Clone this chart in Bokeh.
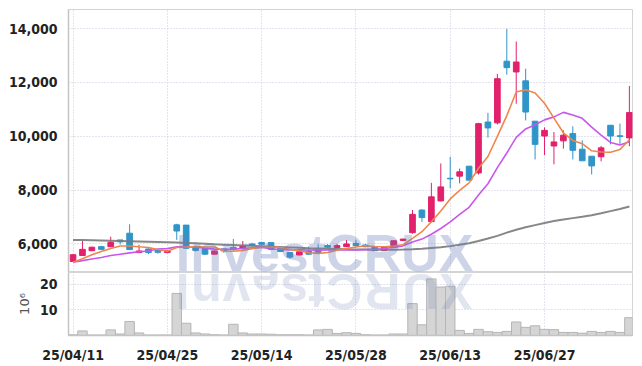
from bokeh.plotting import figure
from bokeh.layouts import column
from bokeh.models import Range1d, FixedTicker, NumeralTickFormatter, ColumnDataSource, Label
from bokeh.embed import file_html
from bokeh.resources import INLINE
import math

dates = ["25/04/11", "25/04/14", "25/04/15", "25/04/16", "25/04/17", "25/04/18", "25/04/21", "25/04/22",
         "25/04/23", "25/04/24", "25/04/25", "25/04/28", "25/04/29", "25/04/30", "25/05/02", "25/05/07",
         "25/05/08", "25/05/09", "25/05/12", "25/05/13", "25/05/14", "25/05/15", "25/05/16", "25/05/19",
         "25/05/20", "25/05/21", "25/05/22", "25/05/23", "25/05/26", "25/05/27", "25/05/28", "25/05/29",
         "25/05/30", "25/06/02", "25/06/04", "25/06/05", "25/06/09", "25/06/10", "25/06/11", "25/06/12",
         "25/06/13", "25/06/16", "25/06/17", "25/06/18", "25/06/19", "25/06/20", "25/06/23", "25/06/24",
         "25/06/25", "25/06/26", "25/06/27", "25/06/30", "25/07/01", "25/07/02", "25/07/03", "25/07/04",
         "25/07/07", "25/07/08", "25/07/09", "25/07/10"]

opens = [5350, 5570, 5750, 5900, 5900, 6150, 6400, 5680, 5815, 5765,
         5680, 6710, 6700, 5900, 5840, 5620, 5815, 5880, 5840, 6000,
         6050, 6050, 5840, 5680, 5590, 5740, 5800, 5940, 5870, 5900,
         6020, 5960, 5880, 5750, 5880, 6130, 6420, 7260, 6830, 7600,
         8440, 8520, 8890, 8640, 10530, 10500, 12790, 12390, 12060, 10560,
         10010, 9640, 9830, 10100, 9520, 9260, 9240, 10410, 10020, 9940]
highs = [5620, 6110, 5900, 5930, 6270, 6150, 6730, 5970, 5830, 5780,
         5760, 6750, 6700, 5930, 5850, 5750, 5830, 6185, 6110, 6040,
         6080, 6060, 5850, 5690, 5720, 5910, 5990, 6000, 6000, 6150,
         6150, 6000, 5900, 5920, 6130, 6200, 7260, 7290, 8270, 8990,
         9240, 8800, 8890, 10500, 10870, 12320, 13990, 13520, 12510, 10560,
         10330, 10160, 10220, 10370, 9850, 9260, 9640, 10410, 10470, 11870]
lows = [5330, 5560, 5730, 5770, 5880, 5980, 5790, 5680, 5620, 5640,
        5660, 6150, 5840, 5720, 5600, 5610, 5670, 5720, 5830, 5900,
        5950, 5780, 5700, 5450, 5580, 5600, 5680, 5850, 5850, 5890,
        5880, 5870, 5740, 5740, 5870, 6100, 6380, 6820, 6800, 7580,
        8070, 8250, 8370, 8580, 9950, 10440, 12290, 11210, 10590, 9140,
        9300, 8960, 9540, 9140, 9090, 8580, 9070, 9700, 9670, 9630]
closes = [5600, 5800, 5880, 5800, 6060, 6080, 5790, 5740, 5680, 5690,
          5750, 6480, 5840, 5760, 5620, 5740, 5740, 5790, 5925, 5940,
          5990, 5800, 5720, 5510, 5710, 5620, 5690, 5880, 5940, 6000,
          5940, 5900, 5750, 5900, 6120, 6180, 7100, 6980, 7750, 8120,
          8420, 8680, 8370, 10470, 10310, 12140, 12550, 12760, 10900, 9700,
          10220, 9790, 10040, 9480, 9090, 8900, 9570, 10010, 9990, 10880]
volumes = [0.3, 1.8, 0.2, 0.2, 2.2, 0.6, 5.5, 1.0, 0.2, 0.2,
           0.2, 16.5, 4.8, 1.0, 0.6, 0.3, 0.2, 4.4, 1.0, 0.6,
           0.6, 0.5, 0.3, 0.3, 0.3, 0.2, 2.2, 2.4, 0.8, 1.1,
           0.8, 0.3, 0.2, 0.2, 0.6, 0.6, 12.5, 4.2, 22.2, 19.0,
           19.3, 2.0, 0.8, 2.4, 1.5, 1.2, 1.6, 5.3, 3.2, 3.8,
           2.4, 2.3, 1.2, 1.2, 0.9, 1.6, 1.2, 1.6, 1.2, 7.0]
ma5 = [5320, 5450, 5600, 5720, 5828, 5924, 5922, 5894, 5870, 5796,
       5730, 5868, 5888, 5904, 5890, 5888, 5740, 5730, 5763, 5827,
       5877, 5889, 5875, 5792, 5746, 5672, 5650, 5682, 5768, 5826,
       5890, 5932, 5906, 5898, 5922, 5970, 6210, 6456, 6826, 7226,
       7674, 7990, 8268, 8812, 9250, 9994, 10768, 11646, 11732, 11610,
       11226, 10674, 10130, 9846, 9724, 9460, 9416, 9408, 9512, 9870]
ma10 = [5320, 5380, 5440, 5500, 5570, 5620, 5670, 5710, 5740, 5812,
        5827, 5895, 5891, 5887, 5843, 5809, 5804, 5809, 5834, 5859,
        5883, 5815, 5803, 5778, 5787, 5775, 5770, 5779, 5780, 5786,
        5781, 5791, 5794, 5833, 5874, 5930, 6071, 6181, 6362, 6574,
        6822, 7100, 7362, 7819, 8238, 8834, 9379, 9957, 10272, 10430,
        10610, 10721, 10888, 10789, 10667, 10343, 10045, 9770, 9679, 9797]
ma_long = [6150, 6145, 6140, 6130, 6120, 6110, 6100, 6090, 6080, 6070,
           6060, 6050, 6040, 6030, 6010, 5990, 5975, 5960, 5945, 5930,
           5915, 5900, 5885, 5870, 5855, 5840, 5830, 5820, 5810, 5800,
           5795, 5790, 5785, 5785, 5785, 5790, 5800, 5820, 5850, 5880,
           5920, 5970, 6030, 6110, 6200, 6300, 6420, 6530, 6620, 6700,
           6780, 6850, 6910, 6960, 7010, 7070, 7140, 7220, 7300, 7390]
price_ticks = [6000, 8000, 10000, 12000, 14000]
volume_ticks = [10, 20]
date_tick_idx = [0, 10, 20, 30, 40, 50]
watermark = "InvestCRUX"

UP = "#e2206b"
DOWN = "#2f95c9"
FONT = "'DejaVu Sans Condensed', 'DejaVu Sans', sans-serif"
GRID = "#c9c9de"
WM_COLOR = "#6b7db5"

idx = list(range(len(closes)))
colors = [UP if c >= o else DOWN for o, c in zip(opens, closes)]
src = ColumnDataSource(dict(
    x=idx, o=opens, h=highs, l=lows, c=closes,
    top=[max(o, c) for o, c in zip(opens, closes)],
    bot=[min(o, c) for o, c in zip(opens, closes)],
    color=colors, vol=volumes, ma5=ma5, ma10=ma10, mal=ma_long))

xr = Range1d(-0.48, 59.33)
YMIN, YMAX = 4940, 14710
VMAX = 24.7

p = figure(width=640, height=272, x_range=xr, y_range=Range1d(YMIN, YMAX),
           output_backend="svg", toolbar_location=None,
           min_border_left=68, min_border_right=8, min_border_top=9, min_border_bottom=0)
p.xaxis.visible = False
xt = FixedTicker(ticks=date_tick_idx)
p.xgrid.ticker = xt
p.yaxis.ticker = FixedTicker(ticks=price_ticks)
p.yaxis.formatter = NumeralTickFormatter(format="0,0")
for g in (p.xgrid, p.ygrid):
    g.grid_line_color = GRID
    g.grid_line_dash = "1 2"
    g.grid_line_width = 1
p.outline_line_color = "#d4d4d4"
p.yaxis.axis_line_color = "#c4c4c4"
p.yaxis.axis_line_width = 1.5
p.yaxis.major_tick_line_color = None
p.yaxis.minor_tick_line_color = None
p.yaxis.major_label_text_font = FONT
p.yaxis.major_label_text_font_style = "bold"
p.yaxis.major_label_text_font_size = "14px"
p.yaxis.major_label_text_color = "#222222"
p.yaxis.major_label_standoff = 5

p.segment(x0="x", y0="l", x1="x", y1="h", color="color", line_width=1, source=src)
p.vbar(x="x", top="top", bottom="bot", width=0.6, fill_color="color", line_color="color",
       line_width=1, source=src)
p.line("x", "mal", line_color="#7a7a7a", line_width=2, line_alpha=0.9, source=src)
p.line("x", "ma10", line_color="#c957ec", line_width=1.6, source=src)
p.line("x", "ma5", line_color="#ef874c", line_width=1.6, source=src)

# watermark sitting on the panel divider
p.add_layout(Label(x=10.9, y=YMIN - 370, text=watermark, text_font="Liberation Sans",
                   text_font_style="bold", text_font_size="52px", text_color=WM_COLOR,
                   text_alpha=0.33, text_baseline="bottom", text_align="left"))

p2 = figure(width=640, height=93, x_range=xr, y_range=Range1d(0, VMAX),
            output_backend="svg", toolbar_location=None,
            min_border_left=68, min_border_right=8, min_border_top=0, min_border_bottom=0)
p2.vbar(x="x", top="vol", width=1.0, fill_color="#d5d5d5", line_color="#b5b5b5",
        line_width=1, source=src)

# faint mirrored reflection of the watermark letters
letter_px = [182, 206, 236, 265, 294, 316, 344, 382, 420, 456]
for ch, px in zip(watermark, letter_px):
    p2.add_layout(Label(x=(px - 72.5) / 9.43, y=VMAX + 3.6, text=ch, angle=math.pi,
                        text_font="Liberation Sans", text_font_style="bold",
                        text_font_size="50px", text_color=WM_COLOR, text_alpha=0.2,
                        text_baseline="bottom", text_align="center"))

p2.xaxis.ticker = xt
p2.xgrid.ticker = xt
p2.xaxis.major_label_overrides = {i: dates[i] for i in date_tick_idx}
p2.yaxis.ticker = FixedTicker(ticks=volume_ticks)
for g in (p2.xgrid, p2.ygrid):
    g.grid_line_color = GRID
    g.grid_line_dash = "1 2"
    g.grid_line_width = 1
p2.outline_line_color = "#d4d4d4"
for ax in (p2.xaxis, p2.yaxis):
    ax.axis_line_color = "#c4c4c4"
    ax.axis_line_width = 1.5
    ax.major_tick_line_color = None
    ax.minor_tick_line_color = None
    ax.major_label_text_font = FONT
    ax.major_label_text_font_style = "bold"
    ax.major_label_text_font_size = "14px"
    ax.major_label_text_color = "#222222"
p2.yaxis.major_label_standoff = 5
p2.xaxis.major_label_standoff = 5
p2.yaxis.axis_label = "10\u2076"
p2.yaxis.axis_label_text_font = "DejaVu Sans"
p2.yaxis.axis_label_text_font_style = "normal"
p2.yaxis.axis_label_text_font_size = "13px"
p2.yaxis.axis_label_text_color = "#555555"
p2.yaxis.axis_label_standoff = 5

layout = column(p, p2, spacing=0)
open("out.html", "w").write(file_html(layout, INLINE))
